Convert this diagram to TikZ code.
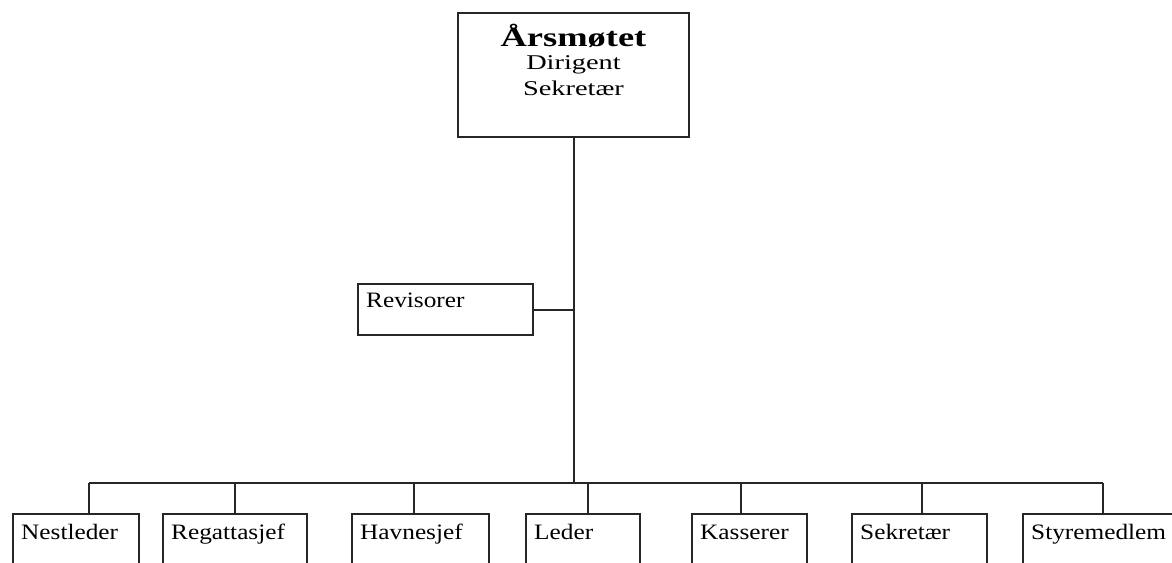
\documentclass[tikz,border=0pt]{standalone}
\usepackage{fontspec}
\setmainfont{Liberation Serif}[FakeStretch=1.15]
\newfontfamily\hodefont{Liberation Serif}[FakeStretch=1.35]
\usetikzlibrary{positioning}

\tikzset{
  boks/.style={draw=black!85, line width=1.2pt, anchor=north west, align=left,
    inner xsep=4pt, inner ysep=5.3pt, text height=7.5pt,
    font=\fontsize{11}{13}\selectfont},
  linje/.style={draw=black!85, line width=1pt},
}

\begin{document}
\begin{tikzpicture}[x=0.5pt,y=-0.5pt]
\useasboundingbox (0,0) rectangle (1172,562);
\clip (0,0) rectangle (1172,562);
\fill[white] (0,0) rectangle (1172,562);

% aarsmotet
\node[draw=black!85, line width=1.2pt, minimum width=115.5pt, minimum height=62pt, inner sep=0pt] (aars) at (573.5,75) {};
\node[below=5.8pt of aars.north, inner sep=0pt, align=center,
  font=\hodefont\fontsize{10.5}{13}\selectfont] (aarstekst)
  {{\bfseries\fontsize{13.5}{14}\selectfont Årsmøtet}\\[-1.3pt] Dirigent\\ Sekretær};

% revisorer
\node[boks, text width=79.5pt, inner ysep=4.3pt, text depth=9.4pt] (rev) at (357,283) {Revisorer};

% styret
\foreach \n/\x/\w/\t in {nest/12/55/Nestleder, rega/162/64/Regattasjef, havn/351/60.5/Havnesjef,
  leder/525/49/Leder, kass/691/49.5/Kasserer, sekr/851/59.5/Sekretær, styre/1022/72/Styremedlem}
  \node[boks, text width=\w pt, text depth=30pt] (\n) at (\x,513) {\t};

% linjer
\coordinate (buss) at (574,483);
\draw[linje] (aars.south) -- (aars.south |- buss);
\draw[linje] (rev.east) -- (rev.east -| aars.south);
\coordinate (bussV) at (89,483);
\coordinate (bussH) at (1103,483);
\draw[linje] (bussV) -- (bussH);
\foreach \n/\x in {nest/89, rega/235, havn/414, leder/588, kass/741, sekr/922, styre/1103}{
  \coordinate (d\n) at (\x,483);
  \draw[linje] (d\n) -- (d\n |- \n.north);
}
\end{tikzpicture}
\end{document}
